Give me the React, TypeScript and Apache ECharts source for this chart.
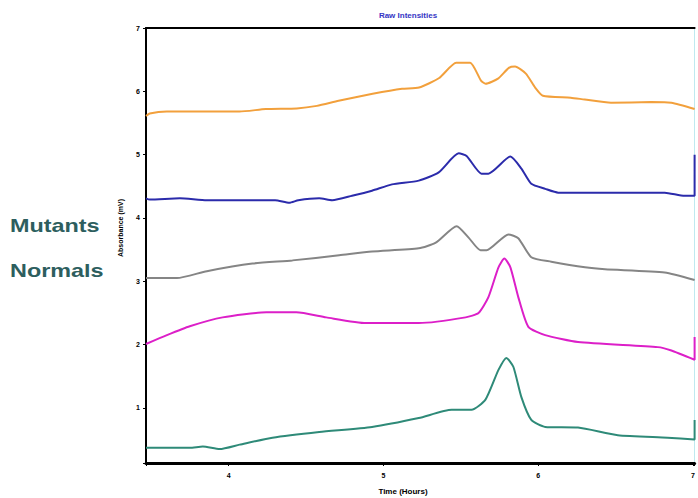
import React, { useEffect, useRef } from "react";
import * as echarts from "echarts";

const titleText = "Raw Intensities";
const xAxisTitle = "Time (Hours)";
const yAxisTitle = "Absorbance (mV)";
const groupLabels = ["Mutants", "Normals"];

const orangeSeries: [number, number][] = [
  [3.466, 5.61], [3.49, 5.65], [3.6, 5.68], [4.07, 5.68], [4.24, 5.72], [4.44, 5.73],
  [4.57, 5.77], [4.71, 5.85], [4.93, 5.96], [5.12, 6.04], [5.23, 6.06], [5.36, 6.21],
  [5.47, 6.45], [5.56, 6.45], [5.63, 6.17], [5.66, 6.12], [5.74, 6.2], [5.81, 6.37],
  [5.85, 6.39], [5.92, 6.28], [5.98, 6.06], [6.03, 5.93], [6.21, 5.9], [6.3, 5.87],
  [6.47, 5.82], [6.73, 5.83], [6.86, 5.82], [7.01, 5.72],
];

const blueSeries: [number, number][] = [
  [3.466, 4.31], [3.49, 4.29], [3.685, 4.31], [3.859, 4.28], [4.3, 4.28], [4.392, 4.24],
  [4.45, 4.28], [4.585, 4.31], [4.669, 4.28], [4.797, 4.35], [4.926, 4.43], [5.055, 4.53],
  [5.228, 4.59], [5.357, 4.72], [5.486, 5.02], [5.537, 4.98], [5.633, 4.7], [5.678, 4.7],
  [5.82, 4.97], [5.891, 4.78], [5.955, 4.54], [6.045, 4.46], [6.129, 4.4], [6.817, 4.4],
  [6.945, 4.35], [7.01, 4.35], [7.01, 5.0],
];

const graySeries: [number, number][] = [
  [3.466, 3.05], [3.666, 3.05], [3.859, 3.16], [4.154, 3.28], [4.412, 3.33], [4.714, 3.41],
  [4.926, 3.47], [5.228, 3.52], [5.338, 3.61], [5.473, 3.87], [5.55, 3.69], [5.627, 3.49],
  [5.666, 3.49], [5.807, 3.74], [5.871, 3.68], [5.955, 3.38], [6.084, 3.31], [6.302, 3.22],
  [6.431, 3.19], [6.817, 3.14], [7.01, 3.02],
];

const magentaSeries: [number, number][] = [
  [3.466, 2.01], [3.601, 2.15], [3.749, 2.29], [3.961, 2.43], [4.244, 2.51], [4.437, 2.51],
  [4.63, 2.43], [4.887, 2.34], [5.228, 2.34], [5.531, 2.43], [5.614, 2.5], [5.678, 2.75],
  [5.743, 3.22], [5.781, 3.36], [5.82, 3.22], [5.871, 2.75], [5.936, 2.28], [6.045, 2.15],
  [6.257, 2.04], [6.772, 1.96], [6.855, 1.91], [7.01, 1.76], [7.01, 2.12],
];

const tealSeries: [number, number][] = [
  [3.466, 0.37], [3.749, 0.37], [3.833, 0.39], [3.942, 0.35], [4.071, 0.42], [4.283, 0.53],
  [4.585, 0.62], [4.926, 0.7], [5.228, 0.84], [5.441, 0.97], [5.569, 0.97], [5.659, 1.13],
  [5.743, 1.6], [5.794, 1.79], [5.839, 1.65], [5.891, 1.17], [5.955, 0.81], [6.045, 0.7],
  [6.257, 0.69], [6.514, 0.57], [6.836, 0.53], [7.01, 0.5], [7.01, 0.81],
];

const seriesList = [
  { name: "A", data: orangeSeries, color: "#f2a03c" },
  { name: "B", data: blueSeries, color: "#2b2bab" },
  { name: "C", data: graySeries, color: "#858585" },
  { name: "D", data: magentaSeries, color: "#dc1fc8" },
  { name: "E", data: tealSeries, color: "#2e8a78" },
];

const FONT = "'Liberation Sans', Arial, sans-serif";

export default function App() {
  const ref = useRef<HTMLDivElement>(null);
  useEffect(() => {
    document.body.style.margin = "0";
    const chart = echarts.init(ref.current!, null, { renderer: "svg" });
    const intLabel = (v: number) =>
      Math.abs(v - Math.round(v)) < 1e-6 ? String(Math.round(v)) : "";
    chart.setOption({
      animation: false,
      backgroundColor: "#ffffff",
      grid: { left: 146, right: 1, top: 28, bottom: 35, containLabel: false },
      xAxis: [
        {
          type: "value",
          min: 3.466,
          max: 7.01,
          splitNumber: 4,
          axisLine: { show: true, lineStyle: { color: "#000", width: 3 } },
          axisTick: { show: true, length: 3, lineStyle: { color: "#000" } },
          axisLabel: {
            formatter: intLabel,
            fontSize: 7,
            fontWeight: "bold",
            color: "#000",
            fontFamily: FONT,
            margin: 9,
          },
          splitLine: { show: false },
        },
        {
          type: "value",
          position: "top",
          min: 3.466,
          max: 7.01,
          axisLine: { show: true, lineStyle: { color: "#000", width: 2 } },
          axisTick: { show: false },
          axisLabel: { show: false },
          splitLine: { show: false },
        },
      ],
      yAxis: [
        {
          type: "value",
          min: 0.13,
          max: 7,
          splitNumber: 7,
          axisLine: { show: true, lineStyle: { color: "#000", width: 2 } },
          axisTick: { show: true, length: 3, lineStyle: { color: "#000" } },
          axisLabel: {
            formatter: intLabel,
            fontSize: 7,
            fontWeight: "bold",
            color: "#000",
            fontFamily: FONT,
            margin: 6,
          },
          splitLine: { show: false },
        },
        {
          type: "value",
          position: "right",
          min: 0.13,
          max: 7,
          axisLine: { show: true, lineStyle: { color: "#bfe9ef", width: 1 } },
          axisTick: { show: false },
          axisLabel: { show: false },
          splitLine: { show: false },
        },
      ],
      series: seriesList.map((s) => ({
        type: "line",
        name: s.name,
        data: s.data,
        xAxisIndex: 0,
        yAxisIndex: 0,
        showSymbol: false,
        symbol: "none",
        smooth: 0.2,
        lineStyle: { color: s.color, width: 2 },
        itemStyle: { color: s.color },
      })),
      graphic: [
        {
          type: "text",
          x: 408,
          y: 15,
          style: {
            text: titleText,
            fill: "#3535c4",
            font: `bold 8px ${FONT}`,
            textAlign: "center",
            textVerticalAlign: "middle",
          },
        },
        {
          type: "text",
          x: 403,
          y: 491,
          style: {
            text: xAxisTitle,
            fill: "#000",
            font: `bold 8px ${FONT}`,
            textAlign: "center",
            textVerticalAlign: "middle",
          },
        },
        {
          type: "text",
          x: 120,
          y: 228,
          rotation: Math.PI / 2,
          style: {
            text: yAxisTitle,
            fill: "#000",
            font: `bold 7px ${FONT}`,
            textAlign: "center",
            textVerticalAlign: "middle",
          },
        },
        {
          type: "text",
          x: 10,
          y: 226,
          scaleX: 1.3,
          style: {
            text: groupLabels[0],
            fill: "#2d5e5e",
            font: `bold 18px ${FONT}`,
            textAlign: "left",
            textVerticalAlign: "middle",
          },
        },
        {
          type: "text",
          x: 10,
          y: 271,
          scaleX: 1.3,
          style: {
            text: groupLabels[1],
            fill: "#2d5e5e",
            font: `bold 18px ${FONT}`,
            textAlign: "left",
            textVerticalAlign: "middle",
          },
        },
      ],
    });
    return () => chart.dispose();
  }, []);
  return (
    <div
      ref={ref}
      style={{ position: "fixed", left: 0, top: 0, width: 698, height: 498 }}
    />
  );
}
